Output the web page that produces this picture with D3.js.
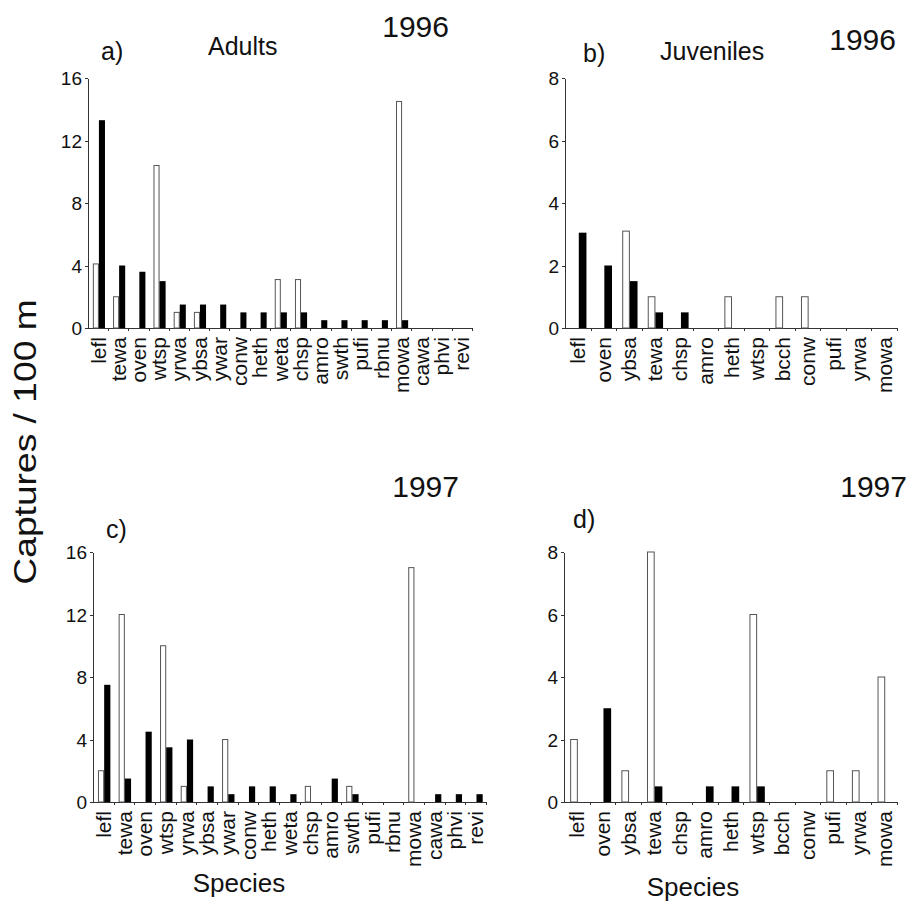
<!DOCTYPE html>
<html>
<head>
<meta charset="utf-8">
<script src="https://cdn.jsdelivr.net/npm/d3@7"></script>
<style>
  body { margin: 0; background: #fff; }
  svg { font-family: "Liberation Sans", Arial, sans-serif; }
  .axis path, .axis line { stroke: #333; shape-rendering: crispEdges; }
  .axis text { font-size: 19px; fill: #111; }
</style>
</head>
<body>
<svg width="910" height="904"></svg>
<script>
// species lists (order as on the x axes)
var speciesAdults = ["lefl","tewa","oven","wtsp","yrwa","ybsa","ywar","conw","heth","weta",
                     "chsp","amro","swth","pufi","rbnu","mowa","cawa","phvi","revi"];
var speciesJuv = ["lefl","oven","ybsa","tewa","chsp","amro","heth","wtsp","bcch","conw",
                  "pufi","yrwa","mowa"];

// captures / 100 m, open (white) and solid (black) bars
var open96A  = [4.1, 2, 0, 10.4, 1, 1, 0, 0, 0, 3.1, 3.1, 0, 0, 0, 0, 14.5, 0, 0, 0];
var solid96A = [13.3, 4, 3.6, 3, 1.5, 1.5, 1.5, 1, 1, 1, 1, 0.5, 0.5, 0.5, 0.5, 0.5, 0, 0, 0];
var open96J  = [0, 0, 3.1, 1, 0, 0, 1, 0, 1, 1, 0, 0, 0];
var solid96J = [3.05, 2, 1.5, 0.5, 0.5, 0, 0, 0, 0, 0, 0, 0, 0];
var open97A  = [2, 12, 0, 10, 1, 0, 4, 0, 0, 0, 1, 0, 1, 0, 0, 15, 0, 0, 0];
var solid97A = [7.5, 1.5, 4.5, 3.5, 4, 1, 0.5, 1, 1, 0.5, 0, 1.5, 0.5, 0, 0, 0, 0.5, 0.5, 0.5];
var open97J  = [2, 0, 1, 8, 0, 0, 0, 6, 0, 0, 1, 1, 4];
var solid97J = [0, 3, 0, 0.5, 0, 0.5, 0.5, 0.5, 0, 0, 0, 0, 0];

var ticksAdults = [0, 4, 8, 12, 16];
var ticksJuv = [0, 2, 4, 6, 8];

var svg = d3.select("svg");

// one panel = one small bar chart
var panels = [
  { species: speciesAdults, open: open96A, solid: solid96A, ticks: ticksAdults,
    x0: 88, x1: 472, top: 78, bottom: 328 },
  { species: speciesJuv, open: open96J, solid: solid96J, ticks: ticksJuv,
    x0: 565, x1: 897, top: 78, bottom: 328 },
  { species: speciesAdults, open: open97A, solid: solid97A, ticks: ticksAdults,
    x0: 93, x1: 486, top: 552, bottom: 802 },
  { species: speciesJuv, open: open97J, solid: solid97J, ticks: ticksJuv,
    x0: 564, x1: 897, top: 552, bottom: 802 }
];

panels.forEach(function (p) {
  var g = svg.append("g");
  var n = p.species.length;

  var x = d3.scaleBand()
      .domain(p.species)
      .range([p.x0, p.x1])
      .paddingInner(0.4)
      .paddingOuter(0.2)
      .align(0.6);
  var sub = d3.scaleBand().domain(["open", "solid"]).range([0, x.bandwidth()]);
  var y = d3.scaleLinear()
      .domain([0, d3.max(p.ticks)])
      .range([p.bottom, p.top]);

  // y axis
  g.append("g")
      .attr("class", "axis")
      .attr("transform", "translate(" + p.x0 + ",0)")
      .call(d3.axisLeft(y).tickValues(p.ticks).tickSize(3).tickSizeOuter(0).tickPadding(3))
      .selectAll("text").attr("dy", "0.36em");

  // x axis line with small ticks at category boundaries
  var xi = d3.scaleLinear().domain([0, n]).range([p.x0, p.x1]);
  g.append("g")
      .attr("class", "axis")
      .attr("transform", "translate(0," + p.bottom + ")")
      .call(d3.axisBottom(xi).tickValues(d3.range(1, n + 1)).tickFormat("").tickSize(3).tickSizeOuter(0));

  var rows = p.species.map(function (s, i) {
    return { species: s, open: p.open[i], solid: p.solid[i] };
  });

  // open bars
  g.selectAll(".open")
      .data(rows.filter(function (d) { return d.open > 0; }))
      .enter().append("rect")
      .attr("x", function (d) { return x(d.species) + sub("open") + 0.5; })
      .attr("y", function (d) { return y(d.open); })
      .attr("width", sub.bandwidth() - 1)
      .attr("height", function (d) { return y(0) - y(d.open); })
      .attr("fill", "#fff")
      .attr("stroke", "#555")
      .attr("stroke-width", 1);

  // solid bars
  g.selectAll(".solid")
      .data(rows.filter(function (d) { return d.solid > 0; }))
      .enter().append("rect")
      .attr("x", function (d) { return x(d.species) + sub("solid"); })
      .attr("y", function (d) { return y(d.solid); })
      .attr("width", sub.bandwidth())
      .attr("height", function (d) { return y(0) - y(d.solid); })
      .attr("fill", "#000");

  // rotated species labels
  var step = x.step();
  g.selectAll(".lab")
      .data(p.species)
      .enter().append("text")
      .attr("transform", function (d, i) {
        var cx = p.x0 + step * (i + 0.5) + 7.5;
        return "translate(" + cx + "," + (p.bottom + 9) + ") rotate(-90)";
      })
      .attr("text-anchor", "end")
      .attr("font-size", 21)
      .attr("fill", "#111")
      .text(function (d) { return d; });
});

// panel titles
var titles = [
  { t: "1996", x: 449, y: 37, size: 30, anchor: "end" },
  { t: "a)", x: 101, y: 60, size: 25, anchor: "start" },
  { t: "Adults", x: 208, y: 55, size: 25, anchor: "start" },
  { t: "1996", x: 896, y: 50, size: 30, anchor: "end" },
  { t: "b)", x: 583, y: 62, size: 25, anchor: "start" },
  { t: "Juveniles", x: 660, y: 60, size: 25, anchor: "start" },
  { t: "1997", x: 459, y: 497, size: 30, anchor: "end" },
  { t: "c)", x: 106, y: 538, size: 25, anchor: "start" },
  { t: "1997", x: 907, y: 497, size: 30, anchor: "end" },
  { t: "d)", x: 573, y: 528, size: 25, anchor: "start" },
  { t: "Species", x: 239, y: 892, size: 26, anchor: "middle" },
  { t: "Species", x: 693, y: 896, size: 26, anchor: "middle" }
];
svg.selectAll(".title")
    .data(titles)
    .enter().append("text")
    .attr("x", function (d) { return d.x; })
    .attr("y", function (d) { return d.y; })
    .attr("font-size", function (d) { return d.size; })
    .attr("text-anchor", function (d) { return d.anchor; })
    .attr("fill", "#111")
    .text(function (d) { return d.t; });

// shared y label
svg.append("text")
    .attr("transform", "translate(36,442) rotate(-90) scale(1.2,1)")
    .attr("text-anchor", "middle")
    .attr("font-size", 31)
    .attr("fill", "#111")
    .text("Captures / 100 m");
</script>
</body>
</html>
